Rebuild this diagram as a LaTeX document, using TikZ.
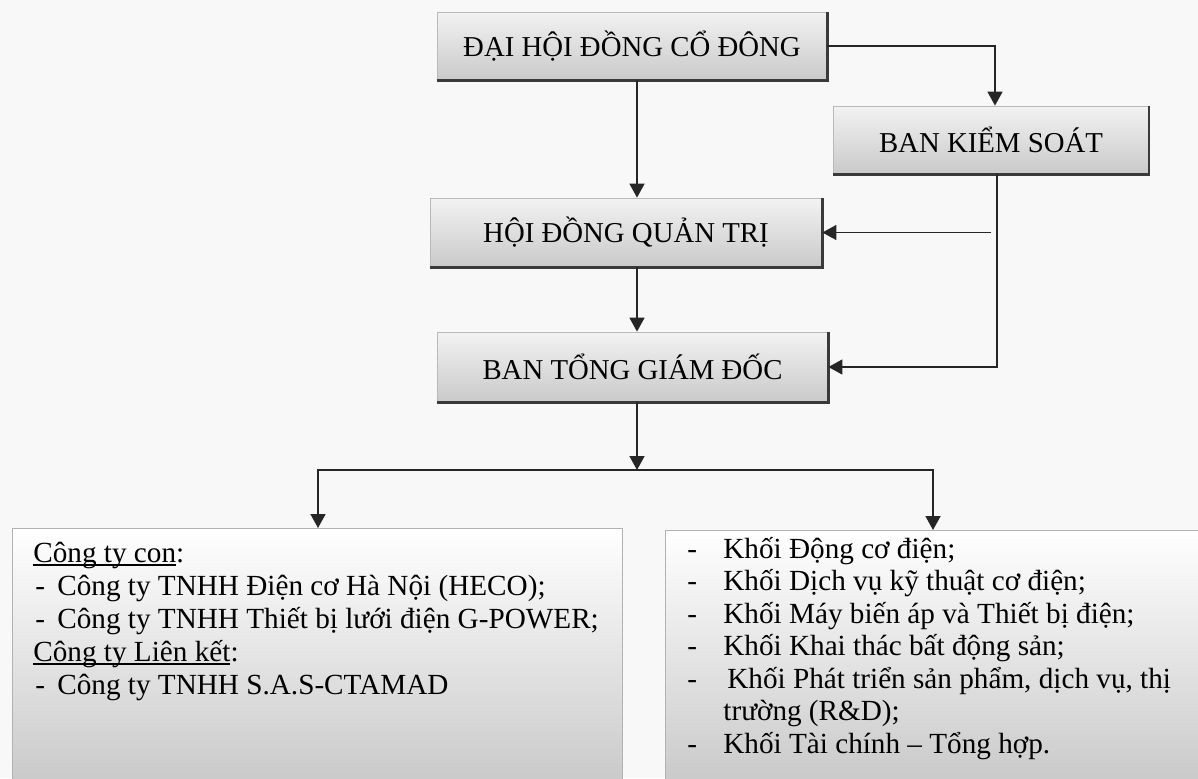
\documentclass[tikz,border=0pt]{standalone}
\usepackage{fontspec}
\setmainfont{Liberation Serif}
\usetikzlibrary{arrows.meta,calc}
\definecolor{bgc}{HTML}{F8F8F8}
\definecolor{shadowc}{HTML}{3A3A3A}
\newcommand\myul[1]{\leavevmode\setbox0\hbox{#1}\rlap{\rule[-1.8pt]{\wd0}{0.6pt}}#1}
\tikzset{
 topbox/.style={draw=gray!55, line width=0.4pt, top color=gray!10, bottom color=gray!42, minimum height=34pt, inner sep=0pt, font=\fontsize{14.4}{17}\selectfont},
 boxshadow/.style={draw=shadowc, line width=1.3pt},
 bigbox/.style={draw=gray!60, line width=0.4pt, top color=white, bottom color=gray!42, anchor=north west, inner sep=0pt},
 arr/.style={draw=black!85, line width=0.8pt, -{Triangle[length=7pt,width=7.5pt]}},
 txt/.style={anchor=base west, inner sep=0pt, font=\fontsize{14.6}{17}\selectfont},
}
\begin{document}
\begin{tikzpicture}[x=0.5pt,y=-0.5pt]
\useasboundingbox (0,0) rectangle (1198,778);
\clip (0,0) rectangle (1198,778);
\fill[bgc] (0,0) rectangle (1198,778);

% upper boxes
\node[topbox, minimum width=195pt] (dh) at (632,46) {ĐẠI HỘI ĐỒNG CỔ ĐÔNG};
\node[topbox, minimum width=157.5pt] (bks) at (991,140) {BAN KIỂM SOÁT};
\node[topbox, minimum width=196pt, minimum height=34.5pt] (hdqt) at (626,232.5) {HỘI ĐỒNG QUẢN TRỊ};
\node[topbox, minimum width=195.5pt, minimum height=35pt] (btgd) at (632.5,367) {BAN TỔNG GIÁM ĐỐC};
\foreach \n in {dh,bks,hdqt,btgd}
  \draw[boxshadow] (\n.south west) -- (\n.south east) -- (\n.north east);

% lower boxes
\node[bigbox, minimum width=305pt, minimum height=127pt] (lb) at (12,528) {};
\node[bigbox, minimum width=268.5pt, minimum height=126pt] (rb) at (665,530) {};

% left texts
\node[txt] (l1) at (33,562) {\myul{Công ty con}:};
\node[txt] (l2) at (35,595) {\makebox[11pt][l]{-}Công ty TNHH Điện cơ Hà Nội (HECO);};
\node[txt] (l3) at (35,628) {\makebox[11pt][l]{-}Công ty TNHH Thiết bị lưới điện G-POWER;};
\node[txt] (l4) at (33,661) {\myul{Công ty Liên kết}:};
\node[txt] (l5) at (35,694) {\makebox[11pt][l]{-}Công ty TNHH S.A.S-CTAMAD};

% right texts
\node[txt] (r1) at (687,558) {\makebox[18pt][l]{-}Khối Động cơ điện;};
\node[txt] (r2) at (687,590.5) {\makebox[18pt][l]{-}Khối Dịch vụ kỹ thuật cơ điện;};
\node[txt] (r3) at (687,623) {\makebox[18pt][l]{-}Khối Máy biến áp và Thiết bị điện;};
\node[txt] (r4) at (687,655.5) {\makebox[18pt][l]{-}Khối Khai thác bất động sản;};
\node[txt] (r5) at (687,688) {\makebox[20pt][l]{-}Khối Phát triển sản phẩm, dịch vụ, thị};
\node[txt] (r6) at (687,720.5) {\hspace*{18pt}trường (R\&D);};
\node[txt] (r7) at (687,753) {\makebox[18pt][l]{-}Khối Tài chính – Tổng hợp.};

% connector helpers
\coordinate (cx) at (637,0);
\coordinate (kx) at (995,0);
\coordinate (vx) at (997,0);
\coordinate (hx) at (991,0);
\coordinate (bus) at (637,470);
\coordinate (busl) at (318,470);
\coordinate (busr) at (933,470);

% connectors
\draw[arr] (dh.east) -| (bks.north -| kx);
\draw[arr] (dh.south -| cx) -- (hdqt.north -| cx);
\draw[arr] (hdqt.south -| cx) -- (btgd.north -| cx);
\draw[arr] (btgd.south -| cx) -- (bus);
\draw[arr] (bus) -| (lb.north -| busl);
\draw[arr] (bus) -| (rb.north -| busr);
\draw[arr] (bks.south -| vx) |- (btgd.east);
\draw[arr] (hdqt.east -| hx) -- (hdqt.east);
\end{tikzpicture}
\end{document}
